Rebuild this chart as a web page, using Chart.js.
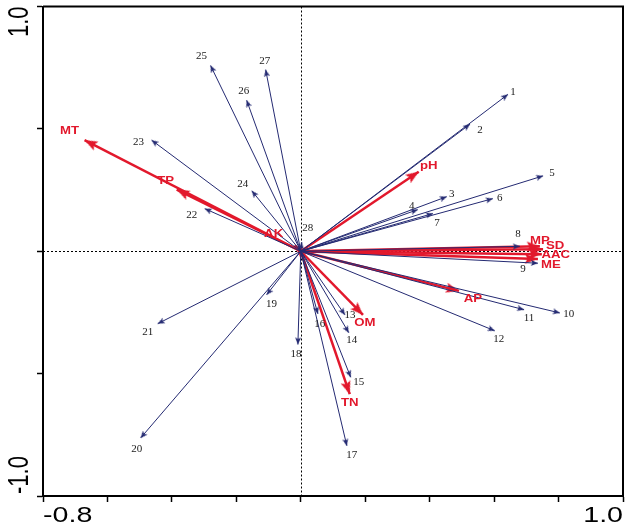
<!DOCTYPE html>
<html>
<head>
<meta charset="utf-8">
<title>RDA biplot</title>
<style>
  html, body { margin: 0; padding: 0; background: #fff; }
  #wrap { width: 630px; height: 525px; }
</style>
<script src="https://cdn.jsdelivr.net/npm/chart.js@4.4.1/dist/chart.umd.min.js"></script>
</head>
<body>
<div id="wrap"><canvas id="biplot" width="630" height="525"></canvas></div>
<script>
// ---- sample arrows (blue) ----
const sampleLabels = ['1', '2', '3', '4', '5', '6', '7', '8', '9', '10',
  '11', '12', '13', '14', '15', '16', '17', '18', '19', '20',
  '21', '22', '23', '24', '25', '26', '27', '28'];
const sampleX = [0.643, 0.525, 0.453, 0.363, 0.752, 0.596, 0.410, 0.680, 0.736, 0.804,
  0.693, 0.602, 0.137, 0.149, 0.155, 0.053, 0.143, -0.009, -0.106, -0.497,
  -0.444, -0.298, -0.463, -0.152, -0.280, -0.168, -0.109, 0.003];
const sampleY = [0.641, 0.519, 0.223, 0.170, 0.308, 0.215, 0.154, 0.020, -0.049, -0.252,
  -0.239, -0.325, -0.260, -0.333, -0.515, -0.256, -0.795, -0.381, -0.178, -0.763,
  -0.296, 0.174, 0.454, 0.247, 0.759, 0.617, 0.742, 0.037];

// ---- environmental arrows (red) ----
const envLabels = ['MT', 'TP', 'AK', 'pH', 'MP', 'SD', 'AAC', 'ME', 'AP', 'OM', 'TN'];
const envX = [-0.671, -0.385, -0.019, 0.366, 0.742, 0.752, 0.748, 0.736, 0.491, 0.193, 0.152];
const envY = [0.454, 0.252, 0.024, 0.325, 0.020, 0.008, -0.012, -0.032, -0.162, -0.260, -0.584];

// ---- axes ----
const xTickValues = [-0.8, 1.0];
const yTickValues = [-1.0, 1.0];
const xTickLabels = ['-0.8', '1.0'];
const yTickLabels = ['-1.0', '1.0'];

// label nudges (pixels from arrow tip)
const labelNudge = {
  '1': [5, -2], '2': [10, 6], '3': [5, -3], '4': [-6, -4], '5': [9, -3],
  '6': [7, -1], '7': [4, 10], '8': [-2, -12], '9': [-15, 6], '10': [9, 1],
  '11': [5, 8], '12': [4, 8], '13': [5, 0], '14': [3, 7], '15': [8, 5],
  '16': [2, 10], '17': [5, 9], '18': [-2, 10], '19': [5, 9], '20': [-4, 11],
  '21': [-10, 8], '22': [-13, 6], '23': [-13, 2], '24': [-9, -7], '25': [-9, -9],
  '26': [-3, -9], '27': [-1, -9], '28': [6, -14],
  'MT': [-15, -9], 'TP': [-11, -9], 'AK': [-21, -11], 'pH': [10, -6],
  'MP': [0, -5], 'SD': [12, -3], 'AAC': [14, 1], 'ME': [13, 6],
  'AP': [14, 8], 'OM': [2, 8], 'TN': [0, 9]
};

const BLUE = '#242a72';
const RED = '#e2182c';

// arrowhead drawn into a small canvas, tip sits at the canvas centre
function makeHead(len, half, color) {
  const c = document.createElement('canvas');
  c.width = half * 2 + 2;
  c.height = len * 2 + 2;
  const g = c.getContext('2d');
  const cx = c.width / 2, cy = c.height / 2;
  g.fillStyle = color;
  g.beginPath();
  g.moveTo(cx, cy);
  g.lineTo(cx - half, cy + len);
  g.lineTo(cx, cy + len * 0.8);
  g.lineTo(cx + half, cy + len);
  g.closePath();
  g.fill();
  return c;
}
const blueHead = makeHead(7, 3, BLUE);
const redHead = makeHead(13, 5, RED);

function headRotation(ctx) {
  const p = ctx.dataset.data[1];
  const sx = ctx.chart.scales.x, sy = ctx.chart.scales.y;
  const dx = sx.getPixelForValue(p.x) - sx.getPixelForValue(0);
  const dy = sy.getPixelForValue(p.y) - sy.getPixelForValue(0);
  return Math.atan2(dx, -dy) * 180 / Math.PI;
}

function arrowSet(label, x, y, color, width, head) {
  return {
    label: label,
    data: [{ x: 0, y: 0 }, { x: x, y: y }],
    showLine: true,
    borderColor: color,
    borderWidth: width,
    pointStyle: head,
    pointRadius: (c) => (c.dataIndex === 1 ? 3 : 0),
    pointRotation: headRotation
  };
}

const datasets = [];
sampleLabels.forEach((l, i) => datasets.push(arrowSet(l, sampleX[i], sampleY[i], BLUE, 1, blueHead)));
envLabels.forEach((l, i) => datasets.push(arrowSet(l, envX[i], envY[i], RED, 2.5, redHead)));

const biplotDecor = {
  id: 'biplotDecor',
  beforeDraw(chart) {
    const ctx = chart.ctx;
    ctx.save();
    ctx.fillStyle = '#fff';
    ctx.fillRect(0, 0, chart.width, chart.height);
    ctx.restore();
  },
  beforeDatasetsDraw(chart) {
    const { ctx, chartArea: a, scales: { x, y } } = chart;
    const x0 = Math.round(x.getPixelForValue(0)) + 0.5;
    const y0 = Math.round(y.getPixelForValue(0)) + 0.5;
    ctx.save();
    ctx.strokeStyle = '#000';
    ctx.lineWidth = 1;
    ctx.setLineDash([2, 2]);
    ctx.beginPath();
    ctx.moveTo(x0, a.top);
    ctx.lineTo(x0, a.bottom);
    ctx.moveTo(a.left, y0);
    ctx.lineTo(a.right, y0);
    ctx.stroke();
    ctx.restore();
  },
  afterDatasetsDraw(chart) {
    const { ctx, scales: { x, y } } = chart;
    ctx.save();
    ctx.textAlign = 'center';
    ctx.textBaseline = 'middle';
    chart.data.datasets.forEach((ds) => {
      const p = ds.data[1];
      const n = labelNudge[ds.label] || [0, 0];
      const px = x.getPixelForValue(p.x) + n[0];
      const py = y.getPixelForValue(p.y) + n[1];
      const isEnv = envLabels.includes(ds.label);
      ctx.save();
      ctx.translate(px, py);
      if (isEnv) {
        ctx.scale(1.2, 1);
        ctx.font = "bold 11px 'Liberation Sans', Arial, sans-serif";
        ctx.fillStyle = RED;
      } else {
        ctx.font = "11px 'Liberation Serif', 'Times New Roman', serif";
        ctx.fillStyle = '#1a1a1a';
      }
      ctx.fillText(ds.label, 0, 0);
      ctx.restore();
    });
    ctx.restore();
  },
  afterDraw(chart) {
    const { ctx, chartArea: a } = chart;
    ctx.save();
    // top and right edges of the frame
    ctx.strokeStyle = '#000';
    ctx.lineWidth = 2;
    ctx.beginPath();
    ctx.moveTo(a.left, a.top);
    ctx.lineTo(a.right, a.top);
    ctx.lineTo(a.right, a.bottom);
    ctx.stroke();

    // end tick labels, slightly stretched like the source figure
    ctx.fillStyle = '#000';
    ctx.font = "22px 'Liberation Sans', Arial, sans-serif";
    ctx.textBaseline = 'alphabetic';
    xTickLabels.forEach((t, i) => {
      const atLeft = xTickValues[i] === chart.scales.x.min;
      ctx.save();
      ctx.translate(atLeft ? a.left : a.right, a.bottom + 26);
      ctx.scale(1.3, 1);
      ctx.textAlign = atLeft ? 'left' : 'right';
      ctx.fillText(t, 0, 0);
      ctx.restore();
    });
    yTickLabels.forEach((t, i) => {
      const atTop = yTickValues[i] === chart.scales.y.max;
      ctx.save();
      ctx.translate(a.left - 15, atTop ? a.top : a.bottom - 2);
      ctx.scale(1.3, 1);
      ctx.rotate(-Math.PI / 2);
      ctx.textAlign = atTop ? 'right' : 'left';
      ctx.fillText(t, 0, 0);
      ctx.restore();
    });
    ctx.restore();
  }
};

new Chart(document.getElementById('biplot'), {
  type: 'scatter',
  data: { datasets: datasets },
  options: {
    responsive: false,
    animation: false,
    layout: { padding: { left: 37, top: 3, right: 7, bottom: 23 } },
    plugins: {
      legend: { display: false },
      tooltip: { enabled: false }
    },
    scales: {
      x: {
        type: 'linear',
        min: xTickValues[0],
        max: xTickValues[1],
        ticks: { display: false, stepSize: 0.2 },
        grid: { drawOnChartArea: false, drawTicks: true, tickLength: 6, color: '#000', tickWidth: 1.5 },
        border: { display: true, color: '#000', width: 2 }
      },
      y: {
        type: 'linear',
        min: yTickValues[0],
        max: yTickValues[1],
        ticks: { display: false, stepSize: 0.5 },
        grid: { drawOnChartArea: false, drawTicks: true, tickLength: 6, color: '#000', tickWidth: 1.5 },
        border: { display: true, color: '#000', width: 2 }
      }
    }
  },
  plugins: [biplotDecor]
});
</script>
</body>
</html>
